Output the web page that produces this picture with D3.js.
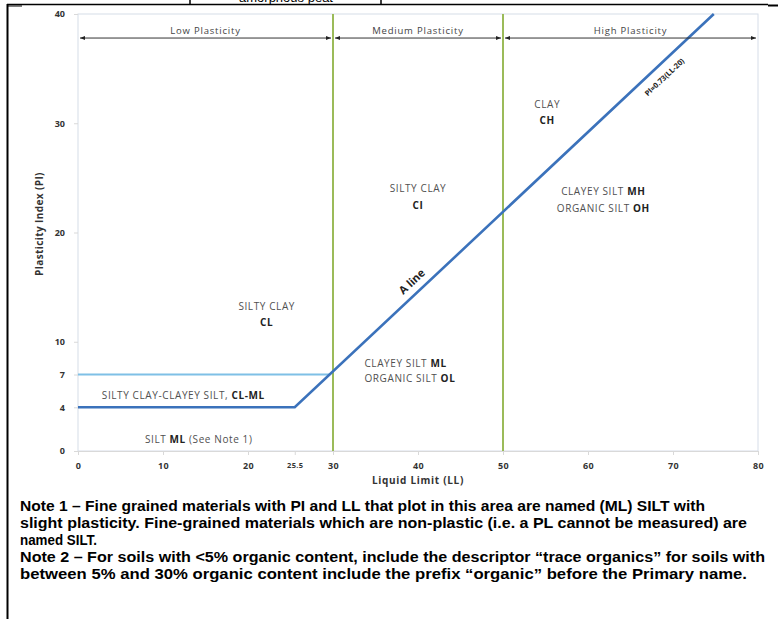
<!DOCTYPE html>
<html><head><meta charset="utf-8">
<script src="https://cdn.jsdelivr.net/npm/d3@7"></script>
<style>
html,body{margin:0;padding:0;background:#fff;}
svg{display:block;}
</style></head>
<body>
<script>
// ---- data ----
const xTicks = [0, 10, 20, 25.5, 30, 40, 50, 60, 70, 80];
const yTicks = [0, 4, 7, 10, 20, 30, 40];
const plasticityBounds = [30, 50];              // LL dividing lines
const aLineLL = [0, 25.5, 74.8];                 // A-line vertices (LL)
const aLinePI = [4, 4, 40];                      // A-line vertices (PI)
const clmlLL = [0, 29.59];                       // PI = 7 line
const clmlPI = [7, 7];
const rangeNames = ["Low Plasticity", "Medium Plasticity", "High Plasticity"];
const rangeLL = [[0, 30], [30, 50], [50, 80]];
const notes = [
  "Note 1 \u2013 Fine grained materials with PI and LL that plot in this area are named (ML) SILT with",
  "slight plasticity.  Fine-grained materials which are non-plastic (i.e. a PL cannot be measured) are",
  "named SILT.",
  "Note 2 \u2013 For soils with <5% organic content, include the descriptor \u201ctrace organics\u201d for soils with",
  "between 5% and 30% organic content include the prefix \u201corganic\u201d before the Primary name."
];

const W = 778, H = 619;
const svg = d3.select("body").append("svg").attr("width", W).attr("height", H);

// frame
svg.append("line").attr("x1", 7.5).attr("x2", 7.5).attr("y1", 4).attr("y2", H).attr("stroke", "#000").attr("stroke-width", 2);
svg.append("line").attr("x1", 7).attr("x2", 768).attr("y1", 4.5).attr("y2", 4.5).attr("stroke", "#000").attr("stroke-width", 1.5);
svg.append("line").attr("x1", 768).attr("x2", 778).attr("y1", 5.5).attr("y2", 5.5).attr("stroke", "#000").attr("stroke-width", 2);
svg.append("line").attr("x1", 7).attr("x2", 22).attr("y1", 6).attr("y2", 6).attr("stroke", "#000").attr("stroke-width", 1);
[190, 381].forEach(x => svg.append("line").attr("x1", x).attr("x2", x).attr("y1", 0).attr("y2", 4).attr("stroke", "#000").attr("stroke-width", 1.5));
svg.append("text").attr("x", 286).attr("y", 1.5).attr("text-anchor", "middle")
  .attr("font-family", "Liberation Sans, Arial").attr("font-size", 13).attr("fill", "#000").text("amorphous peat");

// scales
const x = d3.scaleLinear().domain([0, 80]).range([78, 758]);
const y = d3.scaleLinear().domain([0, 40]).range([451, 14]);
const lblFont = "'Open Sans', 'Noto Sans', sans-serif";

// plot border
svg.append("rect").attr("x", x(0)).attr("y", y(40)).attr("width", x(80) - x(0)).attr("height", y(0) - y(40))
  .attr("fill", "none").attr("stroke", "#d6dde8").attr("stroke-width", 1);

// axes
const yAxis = svg.append("g").attr("transform", `translate(${x(0)},0)`)
  .call(d3.axisLeft(y).tickValues(yTicks).tickSize(4).tickPadding(9).tickFormat(d3.format("d")));
yAxis.select(".domain").remove();
yAxis.selectAll(".tick line").attr("stroke", "#d9d9d9");
yAxis.selectAll("text").attr("font-family", lblFont).attr("font-size", 9).attr("font-weight", "bold").attr("fill", "#333");

const xAxis = svg.append("g").attr("transform", `translate(0,${y(0)})`)
  .call(d3.axisBottom(x).tickValues(xTicks).tickSize(4).tickPadding(8).tickFormat(d => d === 25.5 ? "25.5" : d3.format("d")(d)));
xAxis.select(".domain").attr("stroke", "#d9d9d9");
xAxis.selectAll(".tick line").attr("stroke", "#d9d9d9");
xAxis.selectAll("text").attr("font-family", lblFont).attr("font-size", d => d === 25.5 ? 7.5 : 9).attr("font-weight", "bold")
  .attr("letter-spacing", 0.4).attr("fill", "#333");

// axis titles
svg.append("text").attr("x", 418).attr("y", 484).attr("text-anchor", "middle")
  .attr("font-family", lblFont).attr("font-size", 10).attr("font-weight", "bold").attr("letter-spacing", 0.7).attr("fill", "#333").text("Liquid Limit (LL)");
svg.append("text").attr("transform", `translate(43,224) rotate(-90)`).attr("text-anchor", "middle")
  .attr("font-family", lblFont).attr("font-size", 10).attr("font-weight", "bold").attr("letter-spacing", 0.4).attr("fill", "#333").text("Plasticity Index (PI)");

// green plasticity boundaries
plasticityBounds.forEach(v => svg.append("line").attr("x1", x(v)).attr("x2", x(v)).attr("y1", y(40)).attr("y2", y(0))
  .attr("stroke", "#9bbb59").attr("stroke-width", 2));

// PI = 7 line
const line = d3.line().x(d => x(d[0])).y(d => y(d[1]));
svg.append("path").attr("d", line(clmlLL.map((v, i) => [v, clmlPI[i]])))
  .attr("fill", "none").attr("stroke", "#7fc0e6").attr("stroke-width", 2);

// A-line
svg.append("path").attr("d", line(aLineLL.map((v, i) => [v, aLinePI[i]])))
  .attr("fill", "none").attr("stroke", "#3b72bb").attr("stroke-width", 2.6);

// plasticity range arrows
const defs = svg.append("defs");
defs.append("marker").attr("id", "ah").attr("viewBox", "0 0 10 10").attr("refX", 10).attr("refY", 5)
  .attr("markerWidth", 7).attr("markerHeight", 5).attr("orient", "auto-start-reverse").attr("markerUnits", "userSpaceOnUse")
  .append("path").attr("d", "M0,1 L10,5 L0,9 Z").attr("fill", "#222");
const arrowPI = 37.8;
rangeLL.forEach((r, i) => {
  svg.append("line").attr("x1", x(r[0]) + 2).attr("x2", x(r[1]) - 2).attr("y1", y(arrowPI)).attr("y2", y(arrowPI))
    .attr("stroke", "#333").attr("stroke-width", 1)
    .attr("marker-start", "url(#ah)").attr("marker-end", "url(#ah)");
  svg.append("text").attr("x", (x(r[0]) + x(r[1])) / 2).attr("y", y(arrowPI) - 4).attr("text-anchor", "middle")
    .attr("font-family", lblFont).attr("font-size", 9.5).attr("letter-spacing", 0.8).attr("fill", "#444").text(rangeNames[i]);
});

// region labels
function label(ll, pi, anchor, parts) {
  const t = svg.append("text").attr("x", x(ll)).attr("y", y(pi)).attr("text-anchor", anchor)
    .attr("dominant-baseline", "central").attr("font-family", lblFont).attr("font-size", 10)
    .attr("letter-spacing", 0.6).attr("fill", "#505050");
  parts.forEach(p => t.append("tspan").attr("font-weight", p[1] ? "bold" : "normal").attr("fill", p[1] ? "#222" : "#505050").text(p[0]));
}
label(22.2, 13.3, "middle", [["SILTY CLAY", 0]]);
label(22.2, 11.8, "middle", [["CL", 1]]);
label(2.8, 5.1, "start", [["SILTY CLAY-CLAYEY SILT, ", 0], ["CL-ML", 1]]);
label(14.2, 1.1, "middle", [["SILT ", 0], ["ML", 1], [" (See Note 1)", 0]]);
label(40, 24.1, "middle", [["SILTY CLAY", 0]]);
label(40, 22.5, "middle", [["CI", 1]]);
label(33.7, 8.1, "start", [["CLAYEY SILT ", 0], ["ML", 1]]);
label(33.7, 6.7, "start", [["ORGANIC SILT  ", 0], ["OL", 1]]);
label(55.2, 31.8, "middle", [["CLAY", 0]]);
label(55.2, 30.3, "middle", [["CH", 1]]);
label(61.8, 23.8, "middle", [["CLAYEY SILT ", 0], ["MH", 1]]);
label(61.8, 22.2, "middle", [["ORGANIC SILT   ", 0], ["OH", 1]]);

// rotated line labels
const ang = -Math.atan((y(20) - y(20.73)) / (x(21) - x(20))) * 180 / Math.PI;
function lineLabel(ll, off, txt, size) {
  const px = x(ll), py = y(0.73 * (ll - 20));
  const r = ang * Math.PI / 180;
  const ox = px + off * Math.sin(r), oy = py - off * Math.cos(r);
  svg.append("text").attr("transform", `translate(${ox},${oy}) rotate(${ang})`).attr("text-anchor", "middle")
    .attr("dominant-baseline", "central").attr("font-family", lblFont).attr("font-size", size).attr("font-weight", "bold")
    .attr("fill", "#222").text(txt);
}
lineLabel(40.2, 12, "A line", 11);
lineLabel(68.0, -12, "PI=0.73(LL-20)", 7.5);

// notes
const noteWidths = [685, 727, null, 745, 727];
notes.forEach((n, i) => {
  const t = svg.append("text").attr("x", 20).attr("y", 511 + i * 17)
    .attr("font-family", "'Liberation Sans', Arial, sans-serif").attr("font-size", 14.5).attr("font-weight", "bold")
    .attr("fill", "#000").text(n);
  if (noteWidths[i]) t.attr("textLength", noteWidths[i]).attr("lengthAdjust", "spacingAndGlyphs");
  else t.attr("textLength", 77).attr("lengthAdjust", "spacingAndGlyphs");
});
</script>
</body></html>
